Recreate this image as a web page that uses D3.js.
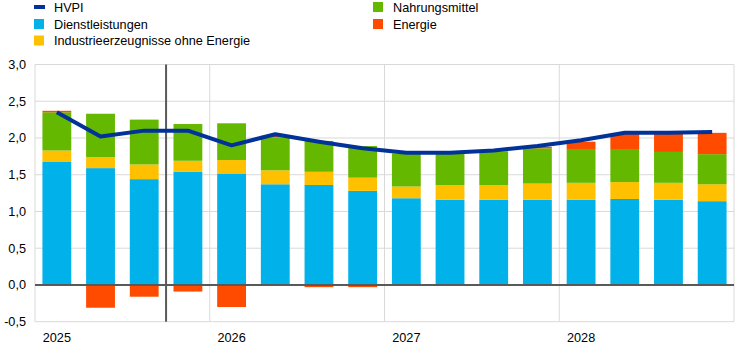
<!DOCTYPE html>
<html>
<head>
<meta charset="utf-8">
<script src="https://cdn.jsdelivr.net/npm/d3@7"></script>
<style>
  body { margin: 0; background: #fff; }
  svg text { font-family: "Liberation Sans", Arial, sans-serif; fill: #000; }
</style>
</head>
<body>
<div id="chart"></div>
<script>
const quarters = ['2025Q1','2025Q2','2025Q3','2025Q4','2026Q1','2026Q2','2026Q3','2026Q4',
                  '2027Q1','2027Q2','2027Q3','2027Q4','2028Q1','2028Q2','2028Q3','2028Q4'];
const dienstleistungen = [1.68, 1.59, 1.44, 1.54, 1.51, 1.37, 1.36, 1.28, 1.18, 1.16, 1.16, 1.16, 1.16, 1.17, 1.16, 1.14];
const industrie = [0.15, 0.15, 0.20, 0.15, 0.19, 0.19, 0.18, 0.18, 0.16, 0.20, 0.20, 0.22, 0.23, 0.23, 0.23, 0.23];
const nahrungsmittel = [0.52, 0.59, 0.61, 0.50, 0.50, 0.45, 0.42, 0.43, 0.45, 0.44, 0.46, 0.48, 0.46, 0.45, 0.42, 0.41];
const energie = [0.02, -0.31, -0.16, -0.09, -0.30, 0.02, -0.03, -0.03, 0.0, 0.0, 0.0, 0.02, 0.10, 0.21, 0.26, 0.29];
const hvpi = [2.35, 2.02, 2.10, 2.10, 1.90, 2.05, 1.95, 1.86, 1.80, 1.80, 1.83, 1.89, 1.97, 2.07, 2.07, 2.08];
const yTicks = [-0.5, 0, 0.5, 1, 1.5, 2, 2.5, 3];
const years = ['2025', '2026', '2027', '2028'];
const projectionStart = '2025Q4';

const keys = ['dienst', 'industrie', 'nahrung', 'energie'];
const colors = { dienst: '#00B1EA', industrie: '#FFC000', nahrung: '#65B800', energie: '#FF4B00', hvpi: '#003299' };

const W = 749, H = 351;
const plot = { left: 35, right: 734, top: 64.5, bottom: 321.7 };
const fontSize = '12.7px';

const rows = quarters.map((q, i) => ({
    q, dienst: dienstleistungen[i], industrie: industrie[i], nahrung: nahrungsmittel[i], energie: energie[i]
}));

const svg = d3.select('#chart').append('svg').attr('width', W).attr('height', H);

const x = d3.scaleBand().domain(quarters).range([plot.left, plot.right]).paddingInner(0.34).paddingOuter(0.17);
const y = d3.scaleLinear().domain([-0.5, 3]).range([plot.bottom, plot.top]);
const boundary = q => x(q) - (x.step() - x.bandwidth()) / 2;

// gridlines
svg.append('g').selectAll('line').data(yTicks.filter(t => t !== 0)).enter().append('line')
    .attr('x1', plot.left).attr('x2', plot.right)
    .attr('y1', d => y(d)).attr('y2', d => y(d))
    .attr('stroke', '#d9d9d9').attr('stroke-width', 1);

const yearBounds = [plot.left, ...years.slice(1).map(yr => boundary(yr + 'Q1')), plot.right];
svg.append('g').selectAll('line').data(yearBounds).enter().append('line')
    .attr('x1', d => d).attr('x2', d => d)
    .attr('y1', plot.top).attr('y2', plot.bottom)
    .attr('stroke', '#d9d9d9').attr('stroke-width', 1);

// stacked bars
const series = d3.stack().keys(keys).offset(d3.stackOffsetDiverging)(rows);
svg.append('g').selectAll('g').data(series).enter().append('g')
    .attr('fill', d => colors[d.key])
    .selectAll('rect').data(d => d).enter().append('rect')
    .attr('x', d => x(d.data.q))
    .attr('width', x.bandwidth())
    .attr('y', d => y(Math.max(d[0], d[1])))
    .attr('height', d => Math.abs(y(d[0]) - y(d[1])));

// zero line
svg.append('line')
    .attr('x1', plot.left).attr('x2', plot.right)
    .attr('y1', y(0)).attr('y2', y(0))
    .attr('stroke', '#595959').attr('stroke-width', 2);

// projection start
svg.append('line')
    .attr('x1', boundary(projectionStart)).attr('x2', boundary(projectionStart))
    .attr('y1', plot.top).attr('y2', plot.bottom)
    .attr('stroke', '#595959').attr('stroke-width', 2);

// HVPI line
const line = d3.line().x((d, i) => x(quarters[i]) + x.bandwidth() / 2).y(d => y(d));
svg.append('path').datum(hvpi)
    .attr('fill', 'none').attr('stroke', colors.hvpi).attr('stroke-width', 4)
    .attr('stroke-linejoin', 'round')
    .attr('d', line);

// y axis labels
const fmt = v => d3.format('.1f')(v).replace('.', ',').replace('−', '-');
svg.append('g').selectAll('text').data(yTicks).enter().append('text')
    .attr('x', 26).attr('y', d => y(d) + 4.5)
    .attr('text-anchor', 'end').style('font-size', fontSize)
    .text(fmt);

// x axis year labels
svg.append('g').selectAll('text').data(years).enter().append('text')
    .attr('x', d => x(d + 'Q1') + x.bandwidth() / 2).attr('y', 341.5)
    .attr('text-anchor', 'middle').style('font-size', fontSize)
    .text(d => d);

// legend
const legendItems = [
    { label: 'HVPI', key: 'hvpi', type: 'line', x: 34, y: 7 },
    { label: 'Dienstleistungen', key: 'dienst', type: 'rect', x: 34, y: 24 },
    { label: 'Industrieerzeugnisse ohne Energie', key: 'industrie', type: 'rect', x: 34, y: 40.5 },
    { label: 'Nahrungsmittel', key: 'nahrung', type: 'rect', x: 373, y: 7 },
    { label: 'Energie', key: 'energie', type: 'rect', x: 373, y: 24 }
];
const lg = svg.append('g').selectAll('g').data(legendItems).enter().append('g')
    .attr('transform', d => `translate(${d.x},${d.y})`);
lg.filter(d => d.type === 'line').append('rect')
    .attr('x', 0).attr('y', -2).attr('width', 11).attr('height', 4).attr('fill', d => colors[d.key]);
lg.filter(d => d.type === 'rect').append('rect')
    .attr('x', 0).attr('y', -5).attr('width', 10).attr('height', 10).attr('fill', d => colors[d.key]);
lg.append('text').attr('x', 20).attr('y', 4.5).style('font-size', fontSize).text(d => d.label);
</script>
</body>
</html>
